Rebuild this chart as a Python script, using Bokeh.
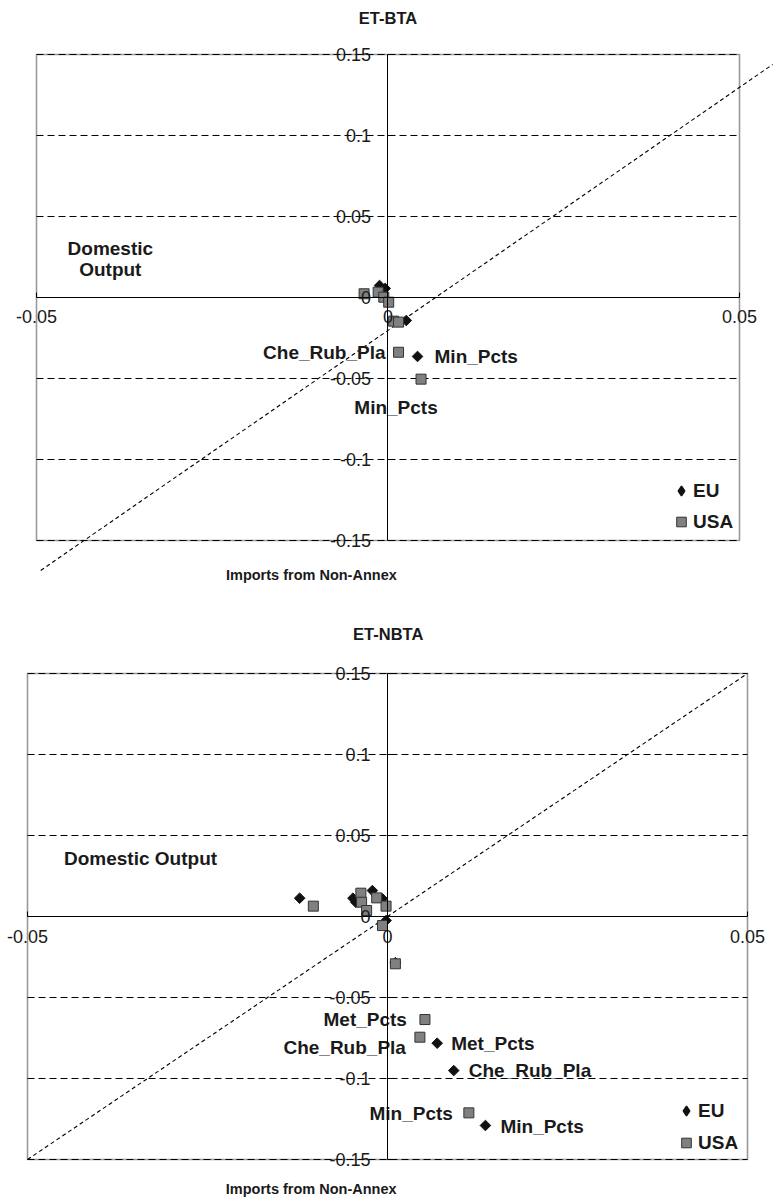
import numpy as np
from bokeh.plotting import figure
from bokeh.layouts import column
from bokeh.models import LinearAxis, FixedTicker, Range1d, Legend, LegendItem, ColumnDataSource
from bokeh.core.properties import value
from bokeh.embed import file_html
from bokeh.resources import INLINE

# ---------------- data ----------------
x_ticks = [-0.05, 0.0, 0.05]
x_tick_labels = ["-0.05", "0", "0.05"]
y_ticks = [-0.15, -0.1, -0.05, 0.0, 0.05, 0.1, 0.15]
y_tick_labels = ["-0.15", "-0.1", "-0.05", "0", "0.05", "0.1", "0.15"]
grid_levels = [-0.15, -0.1, -0.05, 0.05, 0.1, 0.15]

# ET-BTA
bta_eu_x = [-0.0012, -0.0004, 0.0026, 0.0042]
bta_eu_y = [0.0074, 0.0056, -0.0142, -0.0364]
bta_eu_lab = ["", "", "", "Min_Pcts"]
bta_usa_x = [-0.0034, -0.0014, -0.0006, 0.0001, 0.0008, 0.0015, 0.0015, 0.0047]
bta_usa_y = [0.0023, 0.0033, 0.0002, -0.0029, -0.0146, -0.0152, -0.0338, -0.0504]
bta_usa_lab = ["", "", "", "", "", "", "Che_Rub_Pla", "Min_Pcts"]
bta_diag_x = [-0.0494, 0.0547]
bta_diag_y = [-0.1685, 0.1438]

# ET-NBTA
nbta_eu_x = [-0.0122, -0.0048, -0.0044, -0.0021, -0.0007, -0.0002, 0.0011, 0.0069, 0.0092, 0.0136]
nbta_eu_y = [0.0113, 0.0113, 0.0088, 0.0160, 0.0109, -0.0025, -0.0285, -0.0782, -0.0951, -0.1290]
nbta_eu_lab = ["", "", "", "", "", "", "", "Met_Pcts", "Che_Rub_Pla", "Min_Pcts"]
nbta_usa_x = [-0.0103, -0.0037, -0.0036, -0.0029, -0.0015, -0.0002, -0.0007, 0.0011, 0.0052, 0.0045, 0.0113]
nbta_usa_y = [0.0064, 0.0144, 0.0088, 0.0037, 0.0115, 0.0064, -0.0056, -0.0292, -0.0636, -0.0745, -0.1212]
nbta_usa_lab = ["", "", "", "", "", "", "", "", "Met_Pcts", "Che_Rub_Pla", "Min_Pcts"]
nbta_diag_x = [-0.05, 0.05]
nbta_diag_y = [-0.15, 0.15]

# ---------------- label styles (screen offsets) ----------------
bta_eu_lstyle = {"Min_Pcts": ("left", 17, 0)}
bta_usa_lstyle = {"Che_Rub_Pla": ("right", -13, 0), "Min_Pcts": ("center", -25, 28)}
nbta_eu_lstyle = {"Met_Pcts": ("left", 14, 0), "Che_Rub_Pla": ("left", 15, 0), "Min_Pcts": ("left", 15, 1)}
nbta_usa_lstyle = {"Met_Pcts": ("right", -18, 0), "Che_Rub_Pla": ("right", -14, 10), "Min_Pcts": ("right", -16, 1)}

FONT = "Liberation Sans"
INK = "#1a1a1a"


def label_source(xs, ys, labs, style):
    d = dict(x=[], y=[], t=[], al=[], xo=[], yo=[])
    for x, y, t in zip(xs, ys, labs):
        if t:
            al, xo, yo = style[t]
            d["x"].append(x); d["y"].append(y); d["t"].append(t)
            d["al"].append(al); d["xo"].append(xo); d["yo"].append(yo)
    return ColumnDataSource(d)


def style_axis(ax, standoff):
    ax.axis_line_color = "black"
    ax.axis_line_width = 1
    ax.major_tick_line_color = "black"
    ax.major_tick_in = 5
    ax.major_tick_out = 0
    ax.minor_tick_line_color = None
    ax.major_label_standoff = standoff
    ax.major_label_text_font = FONT
    ax.major_label_text_font_size = "18px"
    ax.major_label_text_color = INK


def make_panel(h, xr, yr, title, title_xy, dom_text, dom_xy, imp_xy,
               eu_x, eu_y, eu_lab, eu_ls, usa_x, usa_y, usa_lab, usa_ls,
               diag_x, diag_y, legend_loc, legend_spacing):
    p = figure(width=774, height=h, x_range=Range1d(*xr), y_range=Range1d(*yr),
               x_axis_type=None, y_axis_type=None, output_backend="svg",
               toolbar_location=None, min_border=0, outline_line_color=None,
               background_fill_color="white", border_fill_color="white")

    # plot area box
    p.quad(left=[x_ticks[0]], right=[x_ticks[-1]], bottom=[y_ticks[0]], top=[y_ticks[-1]],
           fill_color="white", line_color="#999999", line_width=1.6, level="image")
    # dashed gridlines
    n = len(grid_levels)
    p.segment(x0=[x_ticks[0]] * n, x1=[x_ticks[-1]] * n, y0=grid_levels, y1=grid_levels,
              line_color="black", line_width=1, line_dash="7 4", level="image")
    # diagonal
    p.line(diag_x, diag_y, line_color="black", line_width=1.1, line_dash="4 3", level="underlay")

    # axes crossing at zero
    xax = LinearAxis(fixed_location=0, bounds=(x_ticks[0], x_ticks[-1]),
                     ticker=FixedTicker(ticks=x_ticks),
                     major_label_overrides=dict(zip(x_ticks, x_tick_labels)))
    style_axis(xax, 13)
    p.add_layout(xax, "below")
    yax = LinearAxis(fixed_location=0, bounds=(y_ticks[0], y_ticks[-1]),
                     ticker=FixedTicker(ticks=y_ticks),
                     major_label_overrides=dict(zip(y_ticks, y_tick_labels)))
    style_axis(yax, 17)
    p.add_layout(yax, "left")

    # series
    p.scatter(eu_x, eu_y, marker="square", angle=np.pi / 4, size=7.5,
              fill_color="#111111", line_color="#111111")
    usa_r = p.scatter(usa_x, usa_y, marker="square", size=10,
                      fill_color="#808080", line_color="#333333", line_width=1)
    # legend proxy for EU (legend glyphs are not rotated)
    eu_proxy = p.scatter(eu_x[:1], eu_y[:1], marker="diamond", fill_color="#111111",
                         line_color="#111111", line_width=1.5, visible=False)

    # point labels
    for src in (label_source(eu_x, eu_y, eu_lab, eu_ls), label_source(usa_x, usa_y, usa_lab, usa_ls)):
        p.text(x="x", y="y", text="t", x_offset="xo", y_offset="yo", text_align="al",
               text_baseline="middle", source=src, text_font=value(FONT),
               text_font_style="bold", text_font_size="19px", text_color=INK)

    # titles / axis captions
    p.text(x=[title_xy[0]], y=[title_xy[1]], text=[title], text_align="center",
           text_baseline="middle", text_font=value(FONT), text_font_style="bold",
           text_font_size="16.5px", text_color=INK)
    p.text(x=[dom_xy[0]], y=[dom_xy[1]], text=[dom_text], text_align="center",
           text_baseline="middle", text_font=value(FONT), text_font_style="bold",
           text_font_size="19px", text_color=INK, text_line_height=1.0)
    p.text(x=[imp_xy[0]], y=[imp_xy[1]], text=["Imports from Non-Annex"], text_align="center",
           text_baseline="middle", text_font=value(FONT), text_font_style="bold",
           text_font_size="14.5px", text_color=INK)

    legend = Legend(items=[LegendItem(label="EU", renderers=[eu_proxy]),
                           LegendItem(label="USA", renderers=[usa_r])],
                    location=legend_loc, orientation="vertical",
                    border_line_color=None, background_fill_alpha=0,
                    padding=0, margin=0, spacing=legend_spacing,
                    glyph_width=24, glyph_height=25, label_height=25, label_standoff=0,
                    label_text_font=FONT, label_text_font_style="bold",
                    label_text_font_size="19px", label_text_color=INK)
    p.add_layout(legend)
    return p


p1 = make_panel(604, (-0.055121, 0.054979), (-0.189506, 0.183333), "ET-BTA", (0.0, 0.1728),
                "Domestic\nOutput", (-0.0395, 0.0235), (-0.0109, -0.1716),
                bta_eu_x, bta_eu_y, bta_eu_lab, bta_eu_lstyle,
                bta_usa_x, bta_usa_y, bta_usa_lab, bta_usa_lstyle,
                bta_diag_x, bta_diag_y, (669, 70), 6)

p2 = make_panel(595, (-0.05375, 0.05375), (-0.174691, 0.192593), "ET-NBTA", (0.0001, 0.1741),
                "Domestic Output", (-0.0343, 0.0358), (-0.0106, -0.1685),
                nbta_eu_x, nbta_eu_y, nbta_eu_lab, nbta_eu_lstyle,
                nbta_usa_x, nbta_usa_y, nbta_usa_lab, nbta_usa_lstyle,
                nbta_diag_x, nbta_diag_y, (674, 44), 7)

layout = column(p1, p2, spacing=0)
open("out.html", "w").write(file_html(layout, INLINE))
